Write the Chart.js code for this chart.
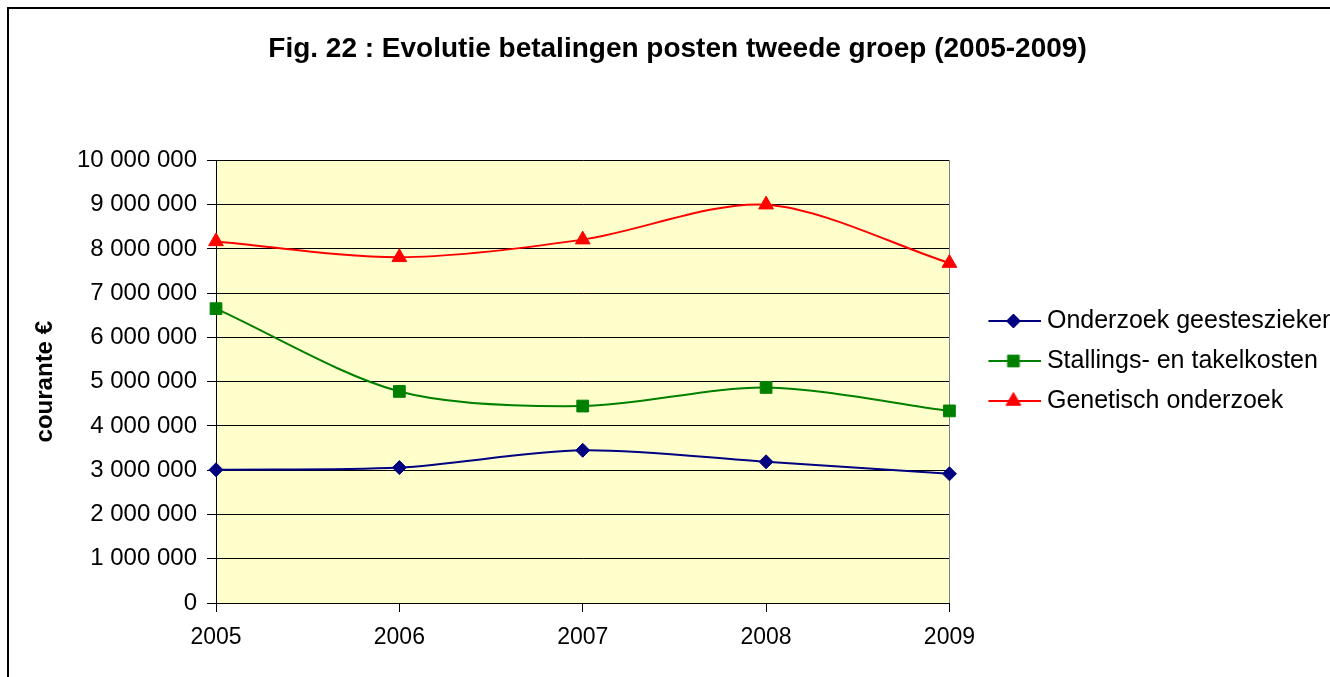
<!DOCTYPE html>
<html>
<head>
<meta charset="utf-8">
<title>Fig. 22</title>
<script src="https://cdn.jsdelivr.net/npm/chart.js@4/dist/chart.umd.min.js"></script>
<style>
  html, body { margin: 0; padding: 0; background: #fff; overflow: hidden; }
  #frame { position: absolute; left: 7px; top: 7px; border-left: 2px solid #000; border-top: 2px solid #000; }
  #chart { display: block; }
</style>
</head>
<body>
<div id="frame"><canvas id="chart" width="1337" height="704"></canvas></div>
<script>
// --- data ---
const years = ['2005', '2006', '2007', '2008', '2009'];
const onderzoekGeesteszieken = [3010000, 3060000, 3450000, 3190000, 2920000];
const stallingsTakelkosten = [6650000, 4780000, 4450000, 4870000, 4340000];
const genetischOnderzoek = [8170000, 7810000, 8210000, 9000000, 7680000];
const seriesNames = ['Onderzoek geesteszieken', 'Stallings- en takelkosten', 'Genetisch onderzoek'];

const FONT = "'Liberation Sans', Arial, sans-serif";
Chart.defaults.font.family = FONT;
Chart.defaults.color = '#000';

function spaced(v) {
  return String(v).replace(/\B(?=(\d{3})+(?!\d))/g, ' ');
}

// yellow plot area + grey right edge, like the old Excel chart
const plotArea = {
  id: 'plotArea',
  beforeDraw(chart) {
    const { ctx, chartArea: a } = chart;
    ctx.save();
    ctx.fillStyle = '#FFFFCC';
    ctx.fillRect(a.left, a.top, a.width, a.height);
    ctx.restore();
  },
  beforeDatasetsDraw(chart) {
    const { ctx, chartArea: a } = chart;
    const x = Math.round(a.right) + 0.5;
    ctx.save();
    ctx.strokeStyle = '#808080';
    ctx.lineWidth = 1;
    ctx.beginPath();
    ctx.moveTo(x, a.top);
    ctx.lineTo(x, a.bottom);
    ctx.stroke();
    ctx.restore();
  }
};

function makeSet(label, data, color, style, radius) {
  return {
    label: label,
    data: data,
    borderColor: color,
    backgroundColor: color,
    pointBackgroundColor: color,
    pointBorderColor: color,
    pointStyle: style,
    pointRadius: radius,
    pointBorderWidth: 1,
    borderWidth: 2,
    tension: 0.3,
    fill: false
  };
}

const datasets = [
  makeSet(seriesNames[0], onderzoekGeesteszieken, '#000080', 'rectRot', 7),
  makeSet(seriesNames[1], stallingsTakelkosten, '#008000', 'rect', 8.3),
  makeSet(seriesNames[2], genetischOnderzoek, '#FF0000', 'triangle', 8.5)
];

// legend sample: short line with the marker in the middle
function legendSwatch(ds) {
  const c = document.createElement('canvas');
  c.width = 84;
  c.height = 24;
  const g = c.getContext('2d');
  g.strokeStyle = ds.borderColor;
  g.lineWidth = 2;
  g.beginPath();
  g.moveTo(31, 12);
  g.lineTo(84, 12);
  g.stroke();
  g.fillStyle = ds.pointBackgroundColor;
  g.strokeStyle = ds.pointBorderColor;
  g.lineWidth = 1;
  Chart.helpers.drawPoint(g, { pointStyle: ds.pointStyle, radius: ds.pointRadius, borderWidth: 1, rotation: 0 }, 56, 12);
  return c;
}
const swatches = datasets.map(legendSwatch);

new Chart(document.getElementById('chart').getContext('2d'), {
  type: 'line',
  data: { labels: years, datasets: datasets },
  plugins: [plotArea],
  options: {
    responsive: false,
    animation: false,
    devicePixelRatio: 1,
    layout: { padding: 0 },
    plugins: {
      tooltip: { enabled: false },
      title: {
        display: true,
        text: 'Fig. 22 : Evolutie betalingen posten tweede groep (2005-2009)',
        color: '#000',
        font: { size: 28, weight: 'bold' },
        padding: { top: 23.5, bottom: 94.3 }
      },
      legend: {
        position: 'right',
        maxWidth: 2000,
        labels: {
          usePointStyle: true,
          pointStyleWidth: 70,
          padding: 15,
          font: { size: 25 },
          color: '#000',
          generateLabels(chart) {
            const items = Chart.defaults.plugins.legend.labels.generateLabels(chart);
            items.forEach(function (it, i) { it.pointStyle = swatches[i]; });
            return items;
          }
        }
      }
    },
    scales: {
      x: {
        offset: false,
        afterFit(scale) { scale.height = 110; },
        grid: { display: true, drawOnChartArea: false, drawTicks: true, tickLength: 9, color: '#000' },
        border: { color: '#000', width: 1 },
        ticks: { padding: 12, font: { size: 23 }, color: '#000', maxRotation: 0 }
      },
      y: {
        min: 0,
        max: 10000000,
        afterFit(scale) { scale.width = 207; },
        grid: { color: '#000', lineWidth: 1, tickLength: 9 },
        border: { color: '#000', width: 1 },
        ticks: {
          stepSize: 1000000,
          padding: 10,
          font: { size: 24 },
          color: '#000',
          callback: function (v) { return spaced(v); }
        },
        title: {
          display: true,
          text: 'courante €',
          color: '#000',
          font: { size: 24, weight: 'bold' },
          padding: { top: 21.6, bottom: 0 }
        }
      }
    }
  }
});
</script>
</body>
</html>
